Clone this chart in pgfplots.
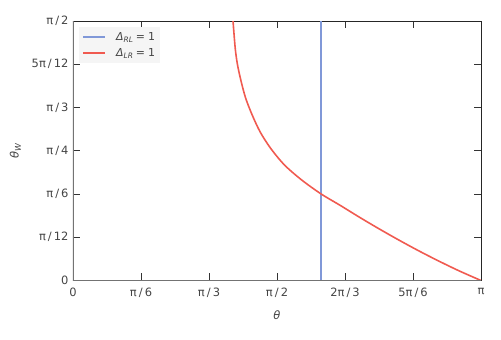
\documentclass[border=0pt]{standalone}
\usepackage{fontspec}
\setmainfont{DejaVu Sans}
\usepackage{pgfplots}
\pgfplotsset{compat=1.18}
\definecolor{lblue}{HTML}{8098D8}
\definecolor{lred}{HTML}{F05A50}
\definecolor{tickgray}{HTML}{444444}
\newcommand{\psl}{\kern0.18em/\kern0.18em}
\begin{document}
\begin{tikzpicture}
\path[use as bounding box] (-73bp,-59.5bp) rectangle (428bp,280.5bp);
\begin{axis}[
  at={(0,0)}, anchor=south west,
  scale only axis, width=408bp, height=259.5bp,
  xmin=0, xmax=1, ymin=0, ymax=0.5,
  xtick={0,0.16667,0.33333,0.5,0.66667,0.83333,1},
  xticklabels={0,π\psl 6,π\psl 3,π\psl 2,2π\psl 3,5π\psl 6,π},
  ytick={0,0.083333,0.16667,0.25,0.33333,0.41667,0.5},
  yticklabels={0,π\psl 12,π\psl 6,π\psl 4,π\psl 3,5π\psl 12,π\psl 2},
  /pgf/number format/assume math mode=true,
  tick align=inside, major tick length=7bp,
  tick style={black!80, line width=0.8pt},
  axis line style={black!85, line width=0.8pt},
  ticklabel style={font=\fontsize{11.5}{13}\selectfont, text=tickgray},
  xticklabel style={yshift=-4bp},
  yticklabel style={xshift=-1bp},
  xlabel={\itshape θ},
  ylabel={{\itshape θ}\raisebox{-0.35ex}{\fontsize{8}{9}\selectfont\itshape W}},
  label style={font=\fontsize{11.5}{13}\selectfont, text=tickgray},
  xlabel style={yshift=-6bp},
  ylabel style={yshift=4bp},
  legend style={fill=black!4, draw=none, font=\fontsize{11}{12}\selectfont\color{tickgray},
    at={(0.015,0.977)}, anchor=north west, row sep=2.5pt, inner xsep=3pt, inner ysep=3pt},
  legend cell align=left,
  legend image code/.code={\draw[mark repeat=2,mark phase=2,#1] plot coordinates {(0cm,0cm) (0.39cm,0cm) (0.78cm,0cm)};},
]
\addlegendimage{color=lblue, line width=1.7pt}
\addlegendentry{\hspace{8bp}{\itshape Δ}\raisebox{-0.35ex}{\fontsize{7.5}{8}\selectfont\itshape RL}\;=\;1}
\addlegendimage{color=lred, line width=1.7pt}
\addlegendentry{\hspace{8bp}{\itshape Δ}\raisebox{-0.35ex}{\fontsize{7.5}{8}\selectfont\itshape LR}\;=\;1}
\addplot[lblue, line width=1.5pt, forget plot] coordinates {(0.6082,0) (0.6082,0.5)};
\addplot[lred, line width=1.6pt, smooth, forget plot] coordinates {
(0.3922,0.5000)
(0.3976,0.4474)
(0.4033,0.4152)
(0.4123,0.3830)
(0.4233,0.3511)
(0.4392,0.3189)
(0.4588,0.2861)
(0.4844,0.2547)
(0.5184,0.2225)
(0.5606,0.1936)
(0.6082,0.1667)
(0.6544,0.1450)
(0.7034,0.1213)
(0.7525,0.0985)
(0.8015,0.0767)
(0.8505,0.0559)
(0.8995,0.0363)
(0.9485,0.0178)
(1.0000,0.0000)
};
\draw[black!55, line width=1.3pt] (rel axis cs:0,1) -- (rel axis cs:0,0) -- (rel axis cs:1,0);
\end{axis}
\end{tikzpicture}
\end{document}
